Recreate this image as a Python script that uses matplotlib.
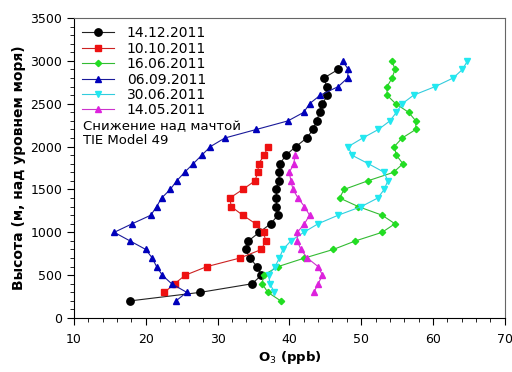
import matplotlib
matplotlib.use("Agg")
import matplotlib.pyplot as plt
from matplotlib.ticker import MultipleLocator

# heights (m) and O3 (ppb)
h_1412 = [200, 300, 400, 500, 600, 700, 800, 900, 1000, 1100, 1200, 1300, 1400,
          1500, 1600, 1700, 1800, 1900, 2000, 2100, 2200, 2300, 2400, 2500,
          2600, 2700, 2800, 2900]
o3_1412 = [17.8, 27.6, 34.8, 36.1, 35.5, 34.5, 33.9, 34.3, 35.8, 37.4, 38.4,
           38.2, 38.2, 38.2, 38.5, 38.6, 38.7, 39.5, 40.9, 42.4, 43.3, 43.8,
           44.2, 44.6, 45.3, 45.2, 44.8, 46.8]

h_1010 = [300, 400, 500, 600, 700, 800, 900, 1000, 1100, 1200, 1300, 1400,
          1500, 1600, 1700, 1800, 1900, 2000]
o3_1010 = [22.6, 24.0, 25.5, 28.5, 33.1, 36.1, 36.7, 36.4, 35.3, 33.5, 31.9,
           31.7, 33.5, 35.2, 35.6, 35.7, 36.5, 37.0]

h_1606 = [200, 300, 400, 500, 600, 700, 800, 900, 1000, 1100, 1200, 1300, 1400,
          1500, 1600, 1700, 1800, 1900, 2000, 2100, 2200, 2300, 2400, 2500,
          2600, 2700, 2800, 2900, 3000]
o3_1606 = [38.8, 37.0, 36.2, 36.4, 38.4, 42.1, 46.1, 49.2, 52.9, 54.7, 52.9,
           49.6, 47.0, 47.6, 50.9, 54.5, 55.8, 54.9, 54.6, 55.7, 57.6, 57.6,
           56.6, 54.8, 53.6, 53.6, 54.3, 54.7, 54.3]

h_0609 = [200, 300, 400, 500, 600, 700, 800, 900, 1000, 1100, 1200, 1300, 1400,
          1500, 1600, 1700, 1800, 1900, 2000, 2100, 2200, 2300, 2400, 2500,
          2600, 2700, 2800, 2900, 3000]
o3_0609 = [24.2, 25.7, 23.6, 22.3, 21.5, 20.9, 20.0, 17.8, 15.6, 18.1, 20.7,
           21.5, 22.2, 23.4, 24.3, 25.4, 26.6, 27.8, 29.0, 31.0, 35.4, 39.8,
           42.0, 42.8, 44.3, 46.8, 48.1, 48.2, 47.4]

h_3006 = [300, 400, 500, 600, 700, 800, 900, 1000, 1100, 1200, 1300, 1400,
          1500, 1600, 1700, 1800, 1900, 2000, 2100, 2200, 2300, 2400, 2500,
          2600, 2700, 2800, 2900, 3000]
o3_3006 = [37.9, 37.3, 37.1, 38.0, 38.6, 39.1, 40.2, 42.0, 44.0, 46.8, 50.0,
           52.3, 53.2, 53.7, 53.2, 51.0, 48.7, 48.2, 50.2, 52.4, 54.0, 54.9,
           55.7, 57.3, 60.3, 62.8, 64.1, 64.8]

h_1405 = [300, 400, 500, 600, 700, 800, 900, 1000, 1100, 1200, 1300, 1400,
          1500, 1600, 1700, 1800, 1900]
o3_1405 = [43.4, 44.0, 44.6, 44.0, 42.5, 41.6, 41.1, 41.1, 42.1, 42.8, 42.1,
           41.2, 40.5, 40.2, 40.0, 40.6, 40.8]

fig = plt.figure(figsize=(5.12, 3.72), dpi=100)
ax = fig.add_axes([0.1445, 0.145, 0.8415, 0.8066])

lw = 0.8
ax.plot(o3_1412, h_1412, '-', color='#222222', lw=lw, marker='o', ms=5.3,
        mfc='black', mec='black', label='14.12.2011')
ax.plot(o3_1010, h_1010, '-', color='#cc2222', lw=lw, marker='s', ms=4.8,
        mfc='#ee1111', mec='#ee1111', label='10.10.2011')
ax.plot(o3_1606, h_1606, '-', color='#33bb33', lw=lw, marker='D', ms=3.2,
        mfc='#22dd22', mec='#22dd22', label='16.06.2011')
ax.plot(o3_0609, h_0609, '-', color='#1a1a99', lw=lw, marker='^', ms=4.3,
        mfc='#0000bb', mec='#0000bb', label='06.09.2011')
ax.plot(o3_3006, h_3006, '-', color='#33ccdd', lw=lw, marker='v', ms=4.8,
        mfc='#22e8f0', mec='#22e8f0', label='30.06.2011')
ax.plot(o3_1405, h_1405, '-', color='#cc33cc', lw=lw, marker='^', ms=4.8,
        mfc='#dd22dd', mec='#dd22dd', label='14.05.2011')

ax.set_xlim(10, 70)
ax.set_ylim(0, 3500)
ax.xaxis.set_major_locator(MultipleLocator(10))
ax.xaxis.set_minor_locator(MultipleLocator(2))
ax.yaxis.set_major_locator(MultipleLocator(500))
ax.yaxis.set_minor_locator(MultipleLocator(100))
ax.tick_params(which='major', direction='out', length=5, width=0.8,
               labelsize=9, top=False, right=False)
ax.tick_params(which='minor', direction='out', length=3, width=0.6,
               top=False, right=False)
ax.tick_params(axis='x', pad=6)

for s in ['top', 'right']:
    ax.spines[s].set_color('#666666')
    ax.spines[s].set_linewidth(0.8)

ax.set_xlabel('O$_3$ (ppb)', fontsize=9.5, fontweight='bold', labelpad=2)
ax.set_ylabel('Высота (м, над уровнем моря)', fontsize=10, fontweight='bold',
              labelpad=3)

leg = ax.legend(loc='upper left', bbox_to_anchor=(0.0, 1.0), frameon=False,
                fontsize=10, handlelength=2.3, handletextpad=0.9,
                labelspacing=0.1, borderpad=0.4, borderaxespad=0.2)

ax.text(0.02, 0.66, 'Снижение над мачтой\nTIE Model 49',
        transform=ax.transAxes, fontsize=9.5, va='top', ha='left',
        linespacing=1.05)

fig.savefig('out.png', dpi=100)
